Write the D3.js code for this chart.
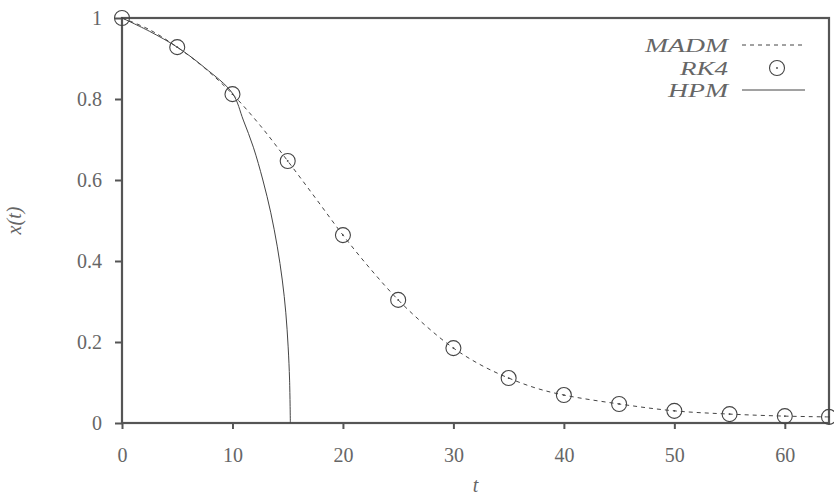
<!DOCTYPE html>
<html><head><meta charset="utf-8">
<script src="https://cdn.jsdelivr.net/npm/d3@7"></script>
<style>body{margin:0;background:#fff;}svg{display:block;}</style>
</head><body>
<svg id="c" width="834" height="499"></svg>
<script>
// ---- data ----
const rkT = [0,5,10,15,20,25,30,35,40,45,50,55,60,64];
const rkX = [1.0,0.928,0.812,0.647,0.464,0.304,0.185,0.111,0.069,0.047,0.030,0.022,0.017,0.015];
const madmT = [0,2.5,5,7.5,10,12.5,15,17.5,20,22.5,25,27.5,30,32.5,35,37.5,40,45,50,55,60,64];
const madmX = [1.0,0.971,0.928,0.876,0.812,0.735,0.647,0.556,0.464,0.380,0.304,0.240,0.185,0.143,0.111,0.086,0.069,0.047,0.030,0.022,0.017,0.015];
const hpmT = [0,2.5,5,7.5,10,10.98,11.89,12.75,13.47,14.06,14.51,14.83,15.04,15.17,15.24];
const hpmX = [1.0,0.967,0.928,0.877,0.814,0.748,0.681,0.600,0.519,0.435,0.353,0.272,0.188,0.106,0.0];
const xTicks = [0,10,20,30,40,50,60];
const yTicks = [0,0.2,0.4,0.6,0.8,1];
const yTickLabels = ["0","0.2","0.4","0.6","0.8","1"];
const legendLabels = ["MADM","RK4","HPM"];

// ---- layout ----
const svg = d3.select("#c");
const m = {l:122, t:18, r:5, b:76};
const W = 834 - m.l - m.r, H = 499 - m.t - m.b;
const x = d3.scaleLinear().domain([0,64]).range([0,W]);
const y = d3.scaleLinear().domain([0,1]).range([H,0]);
const g = svg.append("g").attr("transform",`translate(${m.l},${m.t})`);
const font = "'Liberation Serif','DejaVu Serif',serif";
const axCol = "#555", lineCol = "#444", txtCol = "#666";

const xa = g.append("g").attr("transform",`translate(0,${H})`)
  .call(d3.axisBottom(x).tickValues(xTicks).tickSize(6).tickSizeOuter(0).tickPadding(19));
const ya = g.append("g")
  .call(d3.axisLeft(y).tickValues(yTicks).tickFormat((d,i)=>yTickLabels[i]).tickSize(7).tickSizeOuter(0).tickPadding(13));
[xa,ya].forEach(a=>{
  a.select(".domain").remove();
  a.selectAll("line").attr("stroke",axCol).attr("stroke-width",2);
  a.selectAll("text").attr("fill",txtCol).style("font-family",font).style("font-size","20px");
});

// frame
g.append("rect").attr("x",0).attr("y",0).attr("width",W).attr("height",H)
  .attr("fill","none").attr("stroke",axCol).attr("stroke-width",2.2);

// lines
const madm = madmT.map((t,i)=>[t,madmX[i]]);
const hpm = hpmT.map((t,i)=>[t,hpmX[i]]);
g.append("path").datum(madm)
  .attr("d",d3.line().x(d=>x(d[0])).y(d=>y(d[1])).curve(d3.curveCatmullRom))
  .attr("fill","none").attr("stroke",lineCol).attr("stroke-width",1).attr("stroke-dasharray","4,4");
g.append("path").datum(hpm)
  .attr("d",d3.line().x(d=>x(d[0])).y(d=>y(d[1])).curve(d3.curveCatmullRom))
  .attr("fill","none").attr("stroke",lineCol).attr("stroke-width",1);

// RK4 points
const pts = g.selectAll(".pt").data(rkT.map((t,i)=>[t,rkX[i]])).enter().append("g")
  .attr("transform",d=>`translate(${x(d[0])},${y(d[1])})`);
pts.append("circle").attr("r",7.5).attr("fill","none").attr("stroke",lineCol).attr("stroke-width",1.1);
pts.append("circle").attr("r",0.9).attr("fill",lineCol);

// axis labels
svg.append("text").attr("x",m.l+W/2).attr("y",492).attr("text-anchor","middle")
  .style("font-family",font).style("font-style","italic").style("font-size","20px").attr("fill",txtCol).text("t");
svg.append("text").attr("transform",`translate(21,${m.t+H/2}) rotate(-90)`).attr("text-anchor","middle")
  .style("font-family",font).style("font-style","italic").style("font-size","20px").attr("fill",txtCol).text("x(t)");

// legend
const lgY = [45,68,90];
const lgW = [83,48,60];
legendLabels.forEach((s,i)=>{
  svg.append("text").attr("x",728).attr("y",lgY[i]).attr("dy","0.35em").attr("text-anchor","end")
    .attr("textLength",lgW[i]).attr("lengthAdjust","spacingAndGlyphs")
    .style("font-family",font).style("font-style","italic").style("font-size","19px").attr("fill",txtCol).text(s);
});
svg.append("line").attr("x1",742).attr("x2",804).attr("y1",lgY[0]).attr("y2",lgY[0])
  .attr("stroke",lineCol).attr("stroke-width",1).attr("stroke-dasharray","4,4");
svg.append("circle").attr("cx",777).attr("cy",lgY[1]).attr("r",7.5).attr("fill","none").attr("stroke",lineCol).attr("stroke-width",1.1);
svg.append("circle").attr("cx",777).attr("cy",lgY[1]).attr("r",0.9).attr("fill",lineCol);
svg.append("line").attr("x1",742).attr("x2",805).attr("y1",lgY[2]).attr("y2",lgY[2])
  .attr("stroke",lineCol).attr("stroke-width",1);
</script>
</body></html>
